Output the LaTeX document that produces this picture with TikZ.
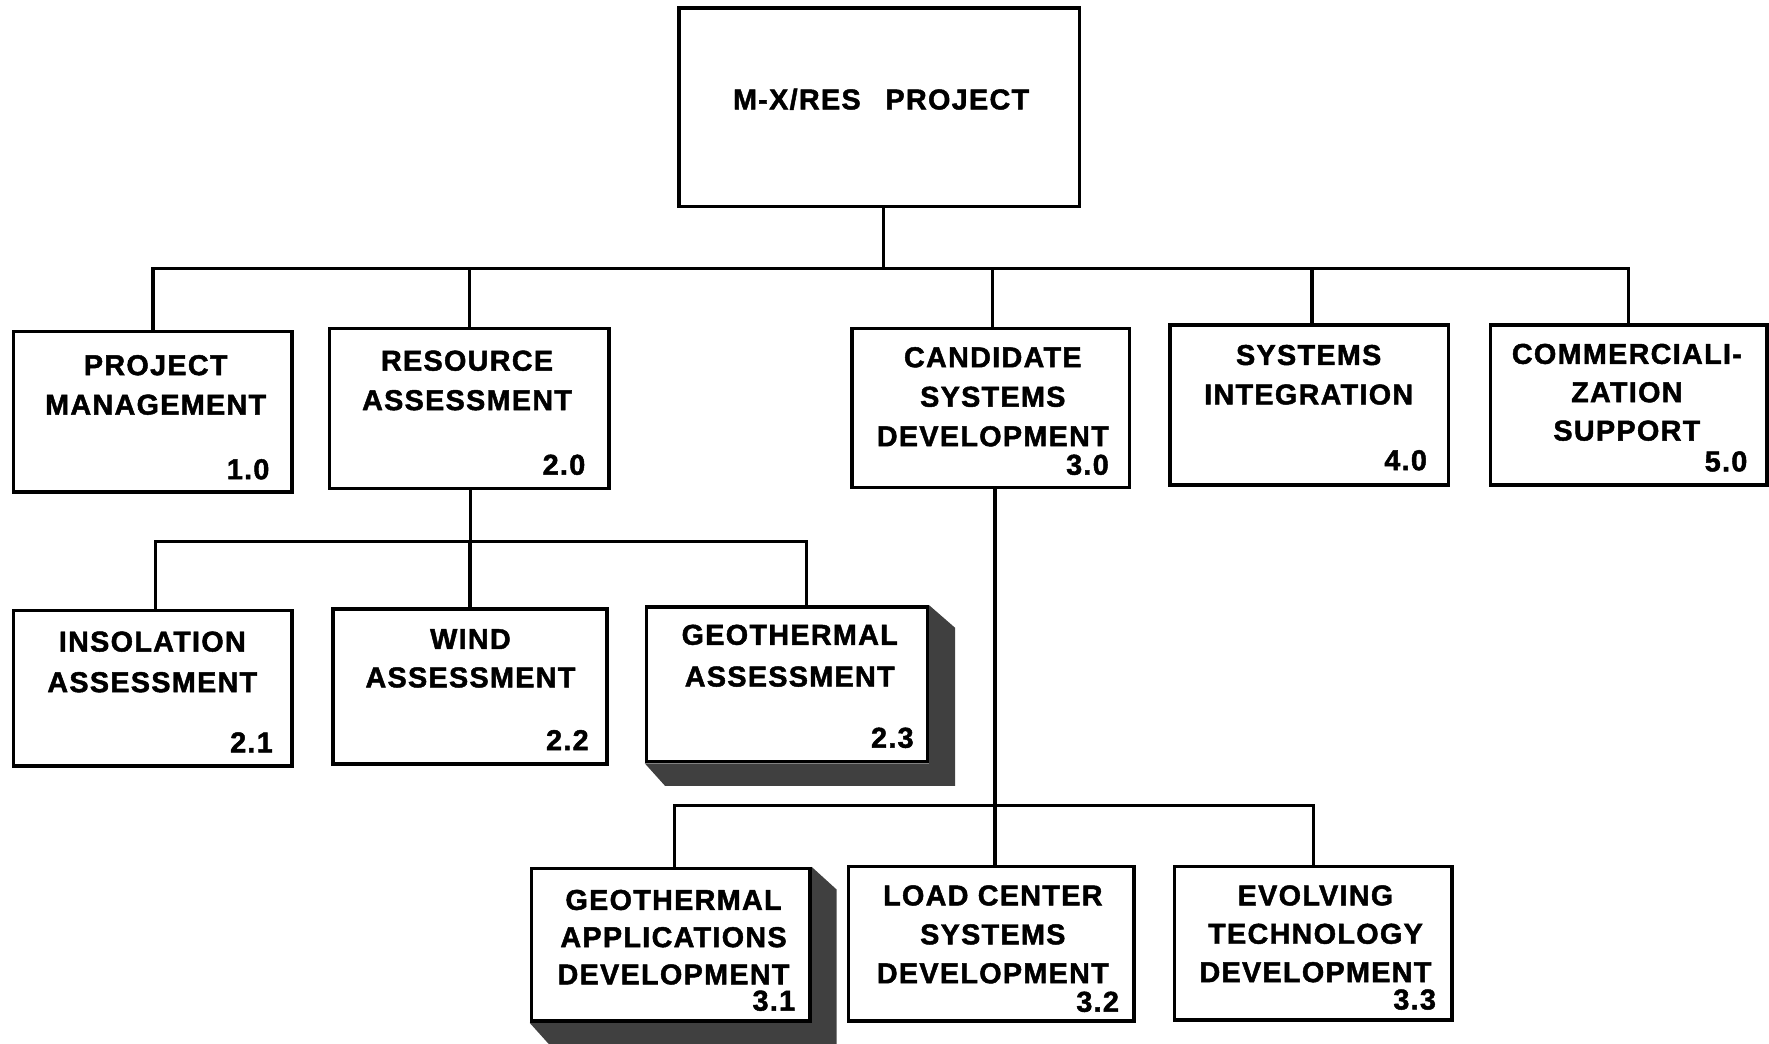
\documentclass[tikz,border=0pt]{standalone}
\usepackage{fontspec}
\setmainfont{Liberation Sans}[LetterSpace=4.5, BoldFeatures={FakeBold=1.6}]
\usetikzlibrary{calc,backgrounds}

\begin{document}
\begin{tikzpicture}[x=1pt,y=-1pt,
  wbox/.style={draw, line width=3.1pt, fill=white, inner sep=0pt},
  title/.style={font=\fontsize{25.5}{35}\selectfont\bfseries, align=center, anchor=north, inner sep=0pt, text depth=0pt},
  num/.style={font=\fontsize{25.5}{30}\selectfont\bfseries, anchor=east, inner sep=0pt},
  link/.style={line width=2.9pt},
  depth/.style={fill=black!75}]

\useasboundingbox (0,0) rectangle (1568,925);

% work breakdown boxes
\node[wbox, minimum width=355pt, minimum height=176pt] (top)  at (779.5,95)  {};
\node[wbox, minimum width=247pt, minimum height=142pt] (pm)   at (135.5,365) {};
\node[wbox, minimum width=248pt, minimum height=142pt] (ra)   at (416,362)   {};
\node[wbox, minimum width=246pt, minimum height=141pt] (csd)  at (878,361.5) {};
\node[wbox, minimum width=247pt, minimum height=142pt] (si)   at (1160.5,359) {};
\node[wbox, minimum width=245pt, minimum height=142pt] (cs)   at (1443.5,359) {};
\node[wbox, minimum width=247pt, minimum height=138pt] (ins)  at (135.5,610) {};
\node[wbox, minimum width=243pt, minimum height=137pt] (wind) at (416.5,608.5) {};
\node[wbox, minimum width=249pt, minimum height=137pt] (geoa) at (697.5,606.5) {};
\node[wbox, minimum width=247pt, minimum height=135pt] (gad)  at (594.5,837.5) {};
\node[wbox, minimum width=253pt, minimum height=137pt] (lcs)  at (878.5,836.5) {};
\node[wbox, minimum width=246pt, minimum height=136pt] (etd)  at (1164,836)  {};

% raised blocks for the geothermal tasks
\begin{scope}[on background layer]
  \fill[depth] (geoa.north east) -- ++(23,20) -- ($(geoa.south east)+(23,20)$)
    -- ($(geoa.south west)+(18,20)$) -- (geoa.south west) -- (geoa.south east) -- cycle;
  \fill[depth] (gad.north east) -- ++(22,20) -- ($(gad.south east)+(22,20)$)
    -- ($(gad.south west)+(18,20)$) -- (gad.south west) -- (gad.south east) -- cycle;
\end{scope}

% connectors
\coordinate (bus1) at (783,238);
\draw[link] ([xshift=3.5pt]top.south) -- (bus1);
\draw[link] (pm.north) |- (bus1);
\draw[link] (ra.north) |- (bus1);
\draw[link] ([xshift=2pt]csd.north) |- (bus1);
\draw[link] ([xshift=2.5pt]si.north) |- (bus1);
\draw[link] (cs.north) |- (bus1);

\coordinate (bus2) at (417,480);
\draw[link] ([xshift=1pt]ra.south) -- (bus2);
\draw[link] ([xshift=2.5pt]ins.north) |- (bus2);
\draw[link] (wind.north) |- (bus2);
\draw[link] ([xshift=17.5pt]geoa.north) |- (bus2);

\coordinate (bus3) at (882,714);
\draw[link] ([xshift=4pt]csd.south) -- ([xshift=4pt]csd.south |- lcs.north);
\draw[link] ([xshift=3.5pt]gad.north) |- (bus3);
\draw[link] (etd.north) |- (bus3);

% titles
\node[font=\fontsize{25.5}{30}\selectfont\bfseries, inner sep=0pt] (top-t) at (781,88) {M-X/RES\hspace{22pt}PROJECT};
\node[title] (pm-t)   at (138,314.5)  {PROJECT\\MANAGEMENT};
\node[title] (ra-t)   at (414,310.5)  {RESOURCE\\ASSESSMENT};
\node[title] (csd-t)  at (880,307.5)  {CANDIDATE\\SYSTEMS\\DEVELOPMENT};
\node[title] (si-t)   at (1160,305.5) {SYSTEMS\\INTEGRATION};
\node[title, font=\fontsize{25.5}{34}\selectfont\bfseries] (cs-t) at (1442,304.5) {COMMERCIALI-\\ZATION\\SUPPORT};
\node[title, font=\fontsize{25.5}{36}\selectfont\bfseries] (ins-t) at (135,559.5) {INSOLATION\\ASSESSMENT};
\node[title, font=\fontsize{25.5}{34}\selectfont\bfseries] (wind-t) at (417,557.5) {WIND\\ASSESSMENT};
\node[title, font=\fontsize{25.5}{37}\selectfont\bfseries] (geoa-t) at (700,553.5) {GEOTHERMAL\\ASSESSMENT};
\node[title, font=\fontsize{25.5}{33}\selectfont\bfseries] (gad-t) at (597,788.5) {GEOTHERMAL\\APPLICATIONS\\DEVELOPMENT};
\node[title, font=\fontsize{25.5}{34.5}\selectfont\bfseries] (lcs-t) at (880,784.5) {LOAD CENTER\\SYSTEMS\\DEVELOPMENT};
\node[title, font=\fontsize{25.5}{34}\selectfont\bfseries] (etd-t) at (1166,784.5) {EVOLVING\\TECHNOLOGY\\DEVELOPMENT};

% task numbers
\node[num] (pm-n)   at (239,416)  {1.0};
\node[num] (ra-n)   at (519,412)  {2.0};
\node[num] (csd-n)  at (983,412)  {3.0};
\node[num] (si-n)   at (1265,408) {4.0};
\node[num] (cs-n)   at (1549,409) {5.0};
\node[num] (ins-n)  at (242,658)  {2.1};
\node[num] (wind-n) at (522,656)  {2.2};
\node[num] (geoa-n) at (810,654)  {2.3};
\node[num] (gad-n)  at (705,887)  {3.1};
\node[num] (lcs-n)  at (992,888)  {3.2};
\node[num] (etd-n)  at (1273,886) {3.3};
\end{tikzpicture}
\end{document}
